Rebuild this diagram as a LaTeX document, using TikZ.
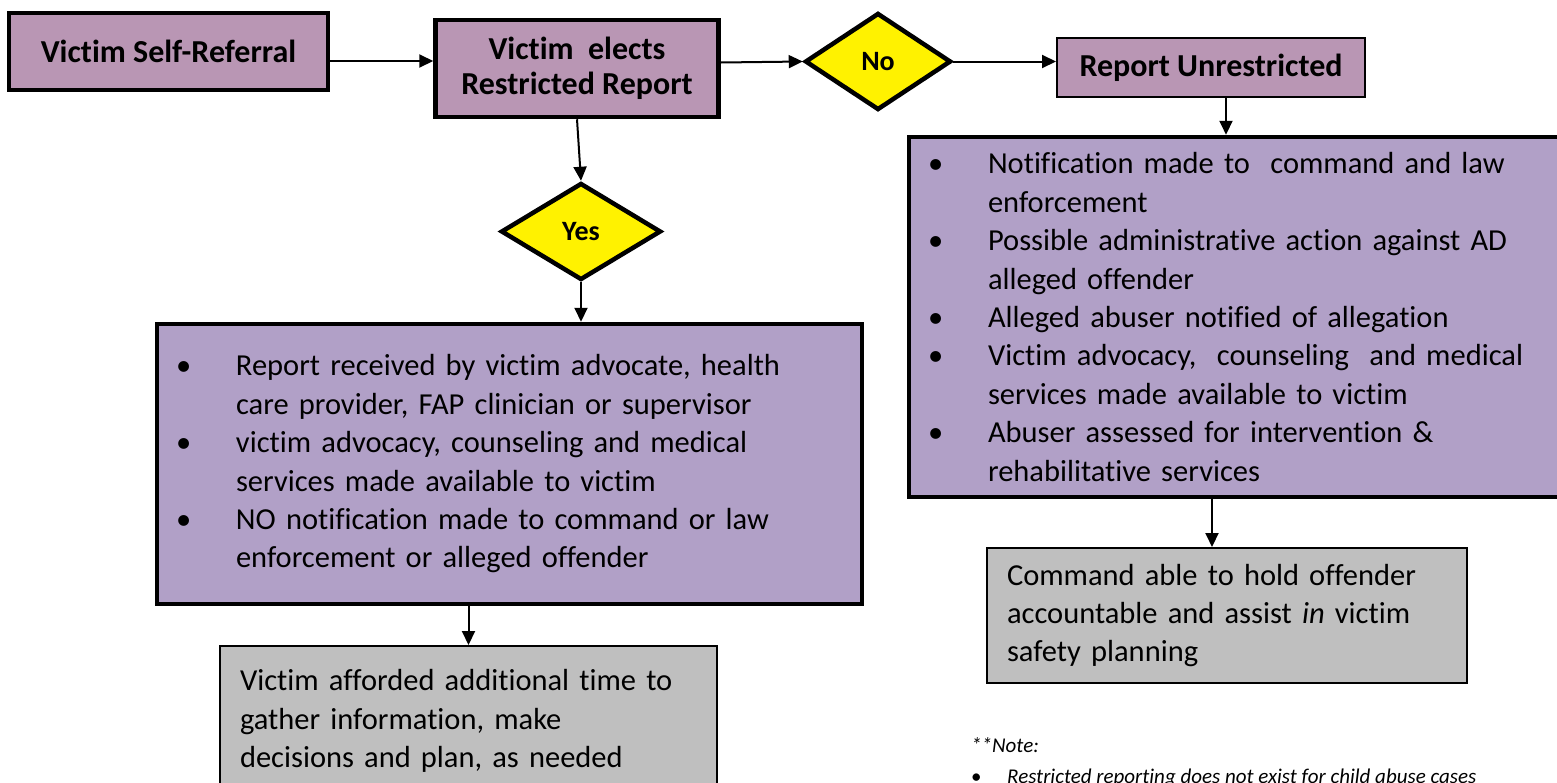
\documentclass[tikz,border=0pt]{standalone}
\usepackage{fontspec}
\setmainfont{Carlito}[Ligatures=NoCommon]
\usetikzlibrary{shapes.geometric,arrows.meta,calc}
\definecolor{mauve}{HTML}{B996B4}
\definecolor{lavender}{HTML}{B1A0C7}
\definecolor{greybox}{HTML}{BFBFBF}
\newcommand{\bul}{\makebox[60pt][l]{\textbullet}}
\newcommand{\cont}{\hspace*{60pt}}

\begin{document}
\begin{tikzpicture}
[x=1pt,y=-1pt,
  headdecorate/.style={shape=rectangle,draw,fill=mauve,inner sep=0pt,align=center,%
    font=\fontsize{32}{35}\selectfont\bfseries},%
  decisiondecorate/.style={shape=diamond,draw,line width=4.5pt,fill=yellow,inner sep=0pt,%
    font=\fontsize{28}{30}\selectfont\bfseries},%
  listdecorate/.style={shape=rectangle,draw,line width=4.5pt,fill=lavender,%
    inner xsep=19pt,inner ysep=0pt,align=left,font=\fontsize{30.5}{38.4}\selectfont},%
  outcomedecorate/.style={shape=rectangle,draw,line width=2pt,fill=greybox,%
    inner xsep=20pt,inner ysep=0pt,align=left,font=\fontsize{30.5}{38.2}\selectfont},%
  linedecorate/.style={line width=2pt,-{Triangle[length=14pt,width=13pt]}}]
%% frame
\useasboundingbox (0,0) rectangle (1557,782);
\clip (0,0) rectangle (1557,782);
%% top row
\node (self) at (168.5,51.5) [headdecorate,line width=4.5pt,minimum width=319pt,minimum height=77pt] {Victim Self-Referral};
\node (elects) at (577,68.5) [headdecorate,line width=4.5pt,minimum width=283pt,minimum height=97pt] {Victim\ \ elects\\Restricted Report};
\node (unres) at (1211,67.5) [headdecorate,line width=2pt,minimum width=308pt,minimum height=59pt] {Report Unrestricted};
%% decisions
\foreach \nodename/\x/\y/\w/\txt in {no/878/61.5/146/No, yes/581/231.5/160/Yes} {
  \node (\nodename) at (\x,\y) [decisiondecorate,minimum width=\w pt,minimum height=97pt] {\txt};
}
%% lists
\node (llist) at (509.5,464) [listdecorate,text width=667pt,minimum height=280pt] {%
  \bul Report received by victim advocate, health\\
  \cont care provider, FAP clinician or supervisor\\
  \bul victim advocacy, counseling and medical\\
  \cont services made available to victim\\
  \bul NO notification made to command or law\\
  \cont enforcement or alleged offender};
\node (rlist) at (1239.5,317) [listdecorate,text width=623pt,minimum height=360pt] {%
  \bul Notification made to\ \ command and law\\
  \cont enforcement\\
  \bul Possible administrative action against AD\\
  \cont alleged offender\\
  \bul Alleged abuser notified of allegation\\
  \bul Victim advocacy,\ \ counseling\ \ and medical\\
  \cont services made available to victim\\
  \bul Abuser assessed for intervention \&\\
  \cont rehabilitative services};
%% outcomes
\node (lgrey) at (468.5,721) [outcomedecorate,text width=457pt,minimum height=150pt] {%
  Victim afforded additional time to\\
  gather information, make\\
  decisions and plan, as needed};
\node (rgrey) at (1227,615.5) [outcomedecorate,text width=440pt,minimum height=135pt] {%
  Command able to hold offender\\
  accountable and assist \textit{in} victim\\
  safety planning};
\node (note) at (971,737) [anchor=north west,inner sep=0pt,align=left,font=\fontsize{21}{31}\selectfont\itshape] {%
  **Note:\\
  \makebox[36pt][l]{\upshape\textbullet}Restricted reporting does not exist for child abuse cases};
%% edges or lines
\draw [linedecorate] ([yshift=-9.5pt]self.east) -- ([yshift=-9.5pt]self.east -| elects.west);
\draw [linedecorate] ([yshift=6pt]elects.east) -- (no.west);
\draw [linedecorate] (no.east) -- (no.east -| unres.west);
\draw [linedecorate] ([xshift=15pt]unres.south) -- ([xshift=15pt]unres.south |- rlist.north);
\draw [linedecorate] (elects.south) -- (yes.north);
\draw [linedecorate] (yes.south) -- (yes.south |- llist.north);
\draw [linedecorate] (lgrey.north |- llist.south) -- (lgrey.north);
\draw [linedecorate] ([xshift=-15pt]rgrey.north |- rlist.south) -- ([xshift=-15pt]rgrey.north);
\end{tikzpicture}
\end{document}
